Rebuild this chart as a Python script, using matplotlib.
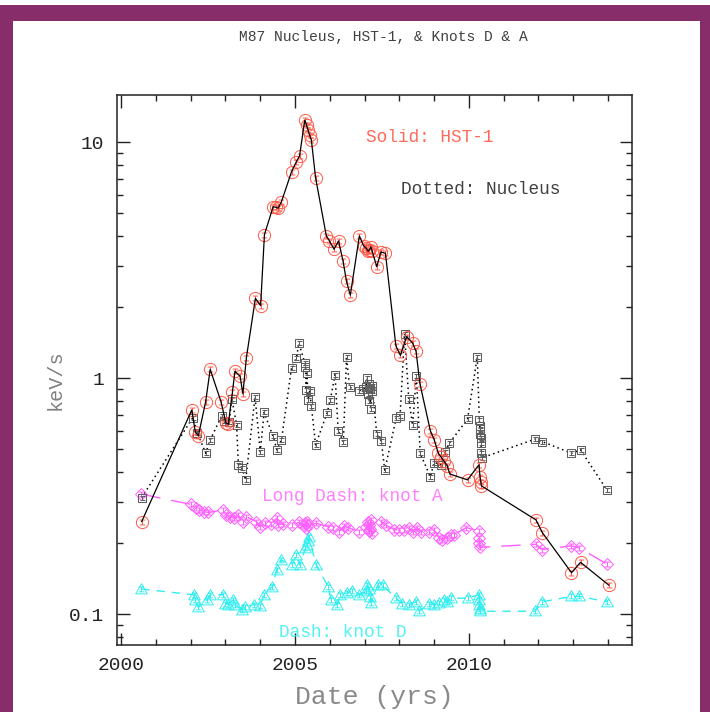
import numpy as np
import matplotlib
matplotlib.use("Agg")
import matplotlib.pyplot as plt
from matplotlib.path import Path
from matplotlib.patches import Rectangle
from matplotlib.ticker import FixedLocator, LogLocator, NullFormatter, FixedFormatter

plt.rcParams['font.family'] = ['Liberation Mono', 'DejaVu Sans']

# ---------------- data ----------------
hst_t = [2000.59, 2002.03, 2002.13, 2002.22, 2002.43, 2002.56, 2002.87, 2003.01, 2003.08, 2003.20,
         2003.27, 2003.42, 2003.50, 2003.60, 2003.86, 2004.01, 2004.12, 2004.37, 2004.45, 2004.51,
         2004.61, 2004.90, 2005.04, 2005.13, 2005.28, 2005.33, 2005.37, 2005.42, 2005.47, 2005.59,
         2005.90, 2005.99, 2006.12, 2006.25, 2006.38, 2006.48, 2006.59, 2006.85, 2006.97, 2007.05,
         2007.10, 2007.14, 2007.18, 2007.22, 2007.35, 2007.47, 2007.60, 2007.90, 2008.03, 2008.21,
         2008.38, 2008.48, 2008.59, 2008.89, 2009.00, 2009.12, 2009.19, 2009.29, 2009.38, 2009.45,
         2009.96, 2010.29, 2010.32, 2010.34, 2010.36, 2011.93, 2012.11, 2012.95, 2013.21, 2014.02]
hst_v = [0.247, 0.734, 0.594, 0.571, 0.796, 1.09, 0.796, 0.648, 0.638, 0.873,
         1.07, 1.02, 0.858, 1.22, 2.18, 2.03, 4.06, 5.33, 5.30, 5.25,
         5.6, 7.5, 8.28, 8.75, 12.4, 11.8, 11.3, 10.7, 10.2, 7.08,
         4.01, 3.82, 3.52, 3.82, 3.14, 2.57, 2.25, 4.01, 3.64, 3.55,
         3.45, 3.50, 3.60, 3.45, 2.97, 3.43, 3.38, 1.37, 1.25, 1.50,
         1.41, 1.30, 0.95, 0.60, 0.55, 0.481, 0.466, 0.444, 0.425, 0.393,
         0.371, 0.43, 0.38, 0.365, 0.35, 0.251, 0.222, 0.150, 0.166, 0.133]

nuc_t = [2000.59, 2002.06, 2002.19, 2002.43, 2002.56, 2002.89, 2002.95, 2003.11, 2003.18, 2003.32,
         2003.37, 2003.48, 2003.58, 2003.85, 2004.00, 2004.11, 2004.36, 2004.48, 2004.61, 2004.90,
         2005.04, 2005.11, 2005.28, 2005.30, 2005.32, 2005.34, 2005.38, 2005.42, 2005.47, 2005.59,
         2005.92, 2006.01, 2006.15, 2006.24, 2006.39, 2006.48, 2006.57, 2006.85, 2006.95, 2007.05,
         2007.08, 2007.10, 2007.12, 2007.14, 2007.16, 2007.18, 2007.20, 2007.22, 2007.35, 2007.48,
         2007.58, 2007.91, 2008.02, 2008.15, 2008.27, 2008.38, 2008.49, 2008.60, 2008.89, 2009.00,
         2009.10, 2009.19, 2009.32, 2009.43, 2009.96, 2010.24, 2010.30, 2010.31, 2010.32, 2010.33,
         2010.34, 2010.35, 2010.36, 2010.37, 2011.90, 2012.11, 2012.95, 2013.21, 2013.97]
nuc_v = [0.312, 0.681, 0.588, 0.481, 0.548, 0.692, 0.659, 0.655, 0.820, 0.636,
         0.430, 0.416, 0.370, 0.833, 0.488, 0.716, 0.571, 0.497, 0.548, 1.11,
         1.22, 1.41, 1.16, 1.12, 0.89, 1.05, 0.81, 0.88, 0.763, 0.522,
         0.711, 0.806, 1.035, 0.599, 0.539, 1.235, 0.915, 0.886, 0.898, 0.92,
         1.00, 0.86, 0.95, 0.80, 0.90, 0.74, 0.88, 0.93, 0.580, 0.543,
         0.408, 0.679, 0.692, 1.545, 0.819, 0.634, 1.02, 0.480, 0.383, 0.439,
         0.436, 0.43, 0.489, 0.53, 0.67, 1.23, 0.666, 0.63, 0.61, 0.58,
         0.56, 0.53, 0.48, 0.46, 0.552, 0.539, 0.481, 0.497, 0.336]

ka_t = [2000.58, 2002.01, 2002.14, 2002.25, 2002.38, 2002.51, 2002.94, 2003.01, 2003.13, 2003.25,
        2003.37, 2003.49, 2003.60, 2003.89, 2003.99, 2004.13, 2004.30, 2004.47, 2004.52, 2004.66,
        2004.90, 2005.11, 2005.26, 2005.29, 2005.32, 2005.35, 2005.38, 2005.61, 2005.95, 2006.08,
        2006.26, 2006.40, 2006.52, 2006.85, 2007.05, 2007.10, 2007.12, 2007.14, 2007.16, 2007.18,
        2007.20, 2007.47, 2007.62, 2007.86, 2008.00, 2008.14, 2008.28, 2008.38, 2008.50, 2008.62,
        2008.86, 2009.00, 2009.15, 2009.24, 2009.36, 2009.48, 2009.56, 2009.93, 2010.28, 2010.29,
        2010.30, 2010.31, 2011.93, 2012.09, 2012.95, 2013.18, 2013.97]
ka_v = [0.323, 0.292, 0.281, 0.277, 0.272, 0.270, 0.277, 0.263, 0.259, 0.255,
        0.263, 0.245, 0.259, 0.247, 0.235, 0.243, 0.241, 0.255, 0.240, 0.241,
        0.239, 0.245, 0.236, 0.244, 0.233, 0.247, 0.238, 0.243, 0.235, 0.232,
        0.224, 0.236, 0.233, 0.224, 0.235, 0.245, 0.225, 0.240, 0.230, 0.250,
        0.220, 0.247, 0.239, 0.228, 0.228, 0.228, 0.232, 0.224, 0.233, 0.224,
        0.224, 0.228, 0.210, 0.207, 0.211, 0.217, 0.217, 0.233, 0.225, 0.210,
        0.200, 0.192, 0.198, 0.188, 0.195, 0.191, 0.163]

kd_t = [2000.58, 2002.08, 2002.13, 2002.22, 2002.46, 2002.56, 2002.94, 2002.99, 2003.08, 2003.21,
        2003.27, 2003.48, 2003.56, 2003.82, 2003.99, 2004.10, 2004.35, 2004.47, 2004.59, 2004.90,
        2005.04, 2005.13, 2005.30, 2005.33, 2005.36, 2005.39, 2005.61, 2005.95, 2006.04, 2006.21,
        2006.30, 2006.49, 2006.63, 2006.85, 2007.05, 2007.08, 2007.12, 2007.15, 2007.18, 2007.38,
        2007.52, 2007.90, 2008.09, 2008.29, 2008.48, 2008.57, 2008.86, 2009.00, 2009.15, 2009.29,
        2009.38, 2009.48, 2009.96, 2010.28, 2010.29, 2010.30, 2010.31, 2010.32, 2011.90, 2012.11,
        2012.95, 2013.18, 2013.97]
kd_v = [0.128, 0.121, 0.115, 0.107, 0.115, 0.121, 0.121, 0.111, 0.110, 0.115,
        0.110, 0.104, 0.107, 0.110, 0.108, 0.121, 0.131, 0.154, 0.170, 0.162,
        0.178, 0.162, 0.190, 0.197, 0.205, 0.212, 0.162, 0.131, 0.115, 0.110,
        0.121, 0.123, 0.125, 0.121, 0.125, 0.133, 0.128, 0.118, 0.112, 0.133,
        0.133, 0.117, 0.111, 0.110, 0.113, 0.103, 0.111, 0.110, 0.112, 0.115,
        0.113, 0.117, 0.117, 0.121, 0.115, 0.110, 0.105, 0.103, 0.103, 0.113,
        0.119, 0.119, 0.113]

x_ticks = [2000, 2005, 2010]
x_ticklabels = ['2000', '2005', '2010']
y_ticks = [0.1, 1, 10]
y_ticklabels = ['0.1', '1', '10']

# ---------------- marker shapes (symbol with error-bar caps inside) ----------------
def with_caps(base):
    caps_v = [(-0.45, 0.4), (0.45, 0.4), (-0.45, -0.4), (0.45, -0.4), (0, 0.4), (0, -0.4)]
    codes = [Path.MOVETO, Path.LINETO, Path.MOVETO, Path.LINETO, Path.MOVETO, Path.LINETO]
    caps = Path(caps_v, codes)
    return Path.make_compound_path(base, caps)

circ = with_caps(Path.unit_circle())
sq = with_caps(Path([(-0.8, -0.8), (0.8, -0.8), (0.8, 0.8), (-0.8, 0.8), (-0.8, -0.8)],
                    [Path.MOVETO, Path.LINETO, Path.LINETO, Path.LINETO, Path.CLOSEPOLY]))
dia = with_caps(Path([(0, -1), (1, 0), (0, 1), (-1, 0), (0, -1)],
                     [Path.MOVETO, Path.LINETO, Path.LINETO, Path.LINETO, Path.CLOSEPOLY]))
tri = with_caps(Path([(-1, -0.75), (1, -0.75), (0, 1), (-1, -0.75)],
                     [Path.MOVETO, Path.LINETO, Path.LINETO, Path.CLOSEPOLY]))

W, H = 710, 712
fig = plt.figure(figsize=(W / 100, H / 100), dpi=100)
purple = '#872d6a'
fig.patch.set_facecolor('white')
# frame
fig.patches.append(Rectangle((0, 0), 1, 1 - 5 / H, transform=fig.transFigure,
                             facecolor=purple, edgecolor='none', zorder=-3))
fig.patches.append(Rectangle((13 / W, 0), (700 - 13) / W, 1 - 21 / H, transform=fig.transFigure,
                             facecolor='white', edgecolor='none', zorder=-2))

ax = fig.add_axes([117 / W, 1 - 645 / H, (632 - 117) / W, (645 - 95) / H])
ax.set_facecolor('white')
ax.set_yscale('log')
ax.set_xlim(1999.88, 2014.69)
ax.set_ylim(0.0741, 15.85)

red = '#ff5a48'
mag = '#ff60ff'
cyan = '#30eef0'
gray = '#606060'

ax.plot(kd_t, kd_v, color=cyan, lw=1.0, dashes=(6, 5), zorder=2)
ax.plot(kd_t, kd_v, linestyle='none', marker=tri, ms=8.4, mfc='none', mec=cyan, mew=0.7, zorder=3)
ax.plot(ka_t, ka_v, color=mag, lw=1.0, dashes=(14, 8), zorder=2)
ax.plot(ka_t, ka_v, linestyle='none', marker=dia, ms=8.6, mfc='none', mec=mag, mew=0.7, zorder=3)
ax.plot(nuc_t, nuc_v, color='black', lw=1.1, linestyle=(0, (1, 2.2)), zorder=2)
ax.plot(nuc_t, nuc_v, linestyle='none', marker=sq, ms=6.4, mfc='none', mec=gray, mew=0.75, zorder=3)
ax.plot(hst_t, hst_v, color='black', lw=0.9, zorder=4)
ax.plot(hst_t, hst_v, linestyle='none', marker=circ, ms=8.8, mfc='none', mec=red, mew=0.7, zorder=3)

# ticks
ax.xaxis.set_major_locator(FixedLocator(x_ticks))
ax.xaxis.set_major_formatter(FixedFormatter(x_ticklabels))
ax.xaxis.set_minor_locator(FixedLocator(np.arange(2000, 2015, 1)))
ax.yaxis.set_major_locator(FixedLocator(y_ticks))
ax.yaxis.set_major_formatter(FixedFormatter(y_ticklabels))
ax.yaxis.set_minor_locator(LogLocator(base=10, subs=np.arange(2, 10), numticks=20))
ax.yaxis.set_minor_formatter(NullFormatter())
ax.tick_params(which='both', direction='in', top=True, right=True, colors='#222222')
ax.tick_params(which='major', length=9, width=1.0, labelsize=14, pad=9)
ax.tick_params(which='minor', length=4.5, width=1.0)
for s in ax.spines.values():
    s.set_linewidth(1.1)
    s.set_color('#222222')

tfs = 12.8
ax.text(0.4835, 0.9236, 'Solid: HST-1', transform=ax.transAxes, color='#ff6a58',
        fontsize=tfs, va='center', ha='left')
ax.text(0.5515, 0.829, 'Dotted: Nucleus', transform=ax.transAxes, color='#404040',
        fontsize=tfs, va='center', ha='left')
ax.text(0.2816, 0.2709, 'Long Dash: knot A', transform=ax.transAxes, color='#ff80ff',
        fontsize=tfs, va='center', ha='left')
ax.text(0.3146, 0.0236, 'Dash: knot D', transform=ax.transAxes, color='#50f4f4',
        fontsize=tfs, va='center', ha='left')

fig.text(383 / W, 1 - 37 / H, 'M87 Nucleus, HST-1, & Knots D & A', color='#404040',
         fontsize=10.5, ha='center', va='center')
fig.text(374 / W, 1 - 697 / H, 'Date (yrs)', color='#8a8a8a', fontsize=19,
         ha='center', va='center')
fig.text(55 / W, 1 - 380 / H, 'keV/s', color='#808080', fontsize=14.5,
         ha='center', va='center', rotation=90)

fig.savefig('out.png', dpi=100, facecolor=fig.get_facecolor())
